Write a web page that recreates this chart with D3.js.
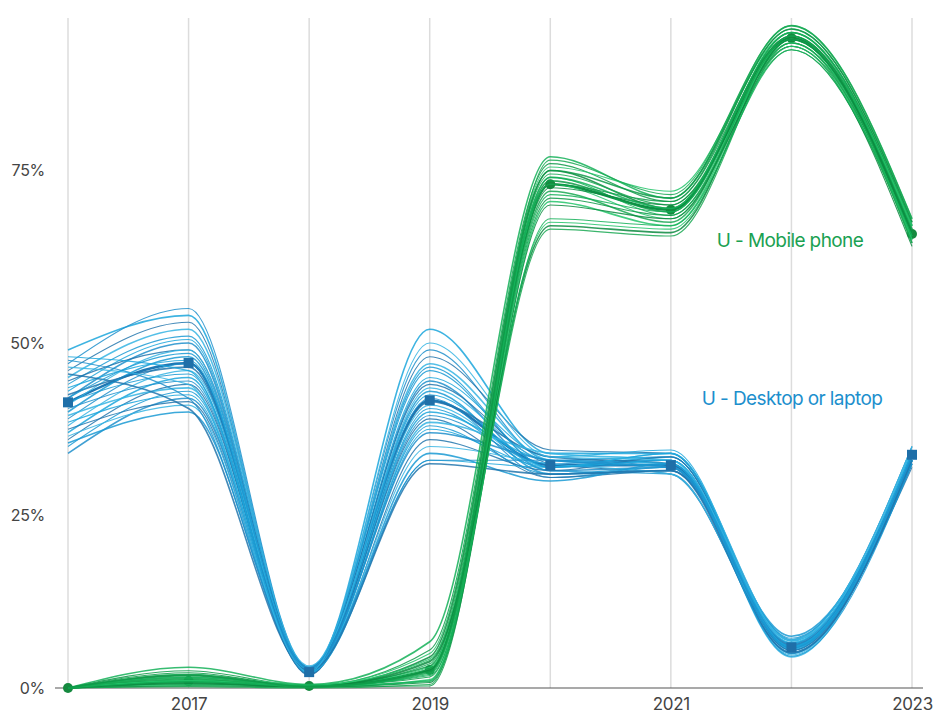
<!DOCTYPE html>
<html><head><meta charset="utf-8">
<script src="https://cdn.jsdelivr.net/npm/d3@7"></script>
<style>body{margin:0;background:#fff}svg{display:block;font-family:Inter,"Liberation Sans",sans-serif}</style>
</head><body><div id="chart"></div>
<script>
const years = [2016, 2017, 2018, 2019, 2020, 2021, 2022, 2023];
const xTickLabels = [2017, 2019, 2021, 2023];
const yTicks = [0, 25, 50, 75];
const seriesNames = ["U - Mobile phone", "U - Desktop or laptop"];
const desktopMain = [41.4, 47.1, 2.3, 41.7, 32.3, 32.3, 5.9, 33.8];
const mobileMain = [0, 1.0, 0.3, 2.6, 73, 69.3, 94.2, 65.8];
const desktopSamples = [
  [49, 54, 2.5, 52, 34, 34, 5.5, 34],
  [47, 55, 2.8, 49, 33, 33.5, 6, 33.5],
  [46, 53, 2.2, 48, 34.5, 34, 7, 35],
  [45, 52, 3.0, 47, 33, 32, 6.5, 34],
  [44, 51, 2.6, 46, 32, 33, 5, 33],
  [43, 50.5, 2.4, 45, 33.5, 34.5, 6, 34.5],
  [42, 50, 2.1, 44.5, 31.5, 32, 5.8, 33],
  [44.5, 49, 2.9, 44, 32.5, 31, 6.2, 32.5],
  [41, 49, 2.3, 43.5, 33, 33, 4.8, 34],
  [40, 48, 2.0, 43, 31, 31.5, 7.5, 33],
  [43.5, 47.5, 2.7, 42.5, 32, 33.5, 6.5, 34.5],
  [39, 47, 2.5, 42, 30.5, 32, 5.2, 32.5],
  [42.5, 46.5, 1.9, 41.5, 33.5, 32.5, 6, 34],
  [38, 46, 3.2, 41, 32, 34, 7, 35],
  [41.5, 45.5, 2.2, 40.5, 31.5, 31, 5.5, 33.5],
  [37, 45, 2.6, 40, 33, 32.5, 6.8, 33],
  [40.5, 44.5, 2.4, 39.5, 32.5, 33, 5, 34],
  [36, 44, 2.8, 39, 30.5, 31.5, 6.3, 32],
  [39.5, 43.5, 2.1, 38.5, 34, 33, 4.5, 34.5],
  [35, 43, 2.5, 38, 31, 32, 7.2, 33.5],
  [38.5, 42.5, 2.3, 37.5, 32, 34, 5.9, 33],
  [34, 42, 3.0, 37, 33, 32, 6.1, 34],
  [37.5, 41.5, 2.0, 36, 31.5, 33.5, 5.4, 32.5],
  [36.5, 41, 2.6, 35, 32.5, 31, 6.6, 34.5],
  [35.5, 40, 2.4, 34, 30, 32.5, 5.7, 33],
  [48, 46, 2.2, 33, 32, 33, 6, 34],
  [47.5, 42, 2.9, 33, 33, 32, 6.4, 33.5],
  [45.5, 40.5, 2.5, 32.5, 31, 31.5, 5.1, 33],
  [46.5, 44, 2.3, 50, 33.5, 33, 6.9, 35],
  [42, 48.5, 2.7, 46.5, 32, 32.5, 4.6, 32.5]
];
const mobileSamples = [
  [0, 3.0, 0.5, 6.7, 77, 71, 96, 68],
  [0, 2.5, 0.3, 5.5, 76, 70.5, 95.5, 67.5],
  [0, 2.0, 0.4, 5, 75.5, 72, 95, 67],
  [0, 1.8, 0.2, 4.5, 75, 69.5, 94.5, 66.5],
  [0, 1.5, 0.3, 4, 74.5, 70, 94, 66],
  [0, 1.3, 0.1, 3.5, 74, 68.5, 93.5, 65.5],
  [0, 1.2, 0.4, 3.2, 73.5, 69, 95, 67],
  [0, 1.0, 0.2, 3, 73, 68, 94, 65],
  [0, 0.9, 0.3, 2.6, 72.5, 70, 93, 66],
  [0, 0.8, 0.1, 2.2, 72, 67.5, 94.5, 64.5],
  [0, 0.6, 0.2, 2, 71.5, 69, 93.5, 66.5],
  [0, 0.5, 0.3, 1.6, 71, 68.5, 92.5, 65],
  [0, 0.4, 0.1, 1.2, 70.5, 67, 94, 67],
  [0, 0.3, 0.2, 0.8, 70, 68, 93, 64],
  [0, 0.2, 0, 0.5, 76.5, 71.5, 96, 68],
  [0, 1.6, 0.3, 1, 74, 69.5, 95, 66],
  [0, 2.2, 0.2, 0.3, 73, 70.5, 94.5, 65.5],
  [0, 1.1, 0.4, 4.2, 67.5, 66.5, 93, 65],
  [0, 0.7, 0.2, 3.8, 67, 66, 94, 66],
  [0, 1.4, 0.1, 2.8, 66.5, 65.5, 93.5, 64.5],
  [0, 0.9, 0.3, 1.8, 68, 67, 92.5, 65.5],
  [0, 1.9, 0.2, 2.4, 75, 71, 95.5, 67.5]
];
const bluePalette = ["#1ba6dc", "#1e8fcb", "#2276ad", "#35b4e3", "#1a9ad4"];
const greenPalette = ["#14b058", "#0e9a48", "#23c46a", "#0c8a40", "#19a852"];

const W = 935, H = 723;
const svg = d3.select("#chart").append("svg").attr("width", W).attr("height", H);
const x = d3.scaleLinear().domain([2016, 2023]).range([68, 912]);
const y = d3.scaleLinear().domain([0, 100]).range([688, -2]);

// vertical gridlines
svg.append("g").selectAll("line").data(years).join("line")
  .attr("x1", d => x(d)).attr("x2", d => x(d))
  .attr("y1", 18).attr("y2", 688)
  .attr("stroke", "#dcdcdc").attr("stroke-width", 1.5);

// y tick labels
svg.append("g").selectAll("text").data(yTicks).join("text")
  .attr("x", 45).attr("y", d => y(d)).attr("dy", "0.35em")
  .attr("text-anchor", "end").attr("fill", "#444").attr("font-size", 16).attr("letter-spacing", -0.3)
  .text(d => d + "%");

// x axis
const xAxis = d3.axisBottom(x).tickValues(xTickLabels).tickFormat(d3.format("d")).tickSize(0).tickPadding(10);
const gx = svg.append("g").attr("transform", "translate(0,688)").call(xAxis);
gx.select(".domain").attr("d", "M55,0H923").attr("stroke", "#555").attr("stroke-width", 1.2);
gx.selectAll("text").attr("font-size", 17).attr("fill", "#444").attr("letter-spacing", -0.3)
  .attr("font-family", "Inter, 'Liberation Sans', sans-serif");

const line = d3.line().x((d, i) => x(years[i])).y(d => y(d)).curve(d3.curveMonotoneX);

// desktop
const gB = svg.append("g").attr("fill", "none");
gB.append("path").attr("d", line(desktopMain)).attr("stroke", "#1f78b4").attr("stroke-width", 2.5);
gB.selectAll("path.s").data(desktopSamples).join("path").attr("class", "s")
  .attr("d", line).attr("stroke", (d, i) => bluePalette[i % bluePalette.length])
  .attr("stroke-width", (d, i) => i % 3 === 0 ? 1.6 : 1.1).attr("stroke-opacity", 0.85);

// markers (desktop)
svg.append("g").selectAll("rect").data(desktopMain).join("rect")
  .attr("x", (d, i) => x(years[i]) - 5).attr("y", d => y(d) - 5)
  .attr("width", 10).attr("height", 10).attr("fill", "#1f6fa8");

// mobile
const gG = svg.append("g").attr("fill", "none");
gG.append("path").attr("d", line(mobileMain)).attr("stroke", "#0f8f45").attr("stroke-width", 2.5);
gG.append("g").selectAll("circle").data(mobileMain).join("circle")
  .attr("cx", (d, i) => x(years[i])).attr("cy", d => y(d)).attr("r", 5)
  .attr("fill", "#15893f");
gG.selectAll("path.s").data(mobileSamples).join("path").attr("class", "s")
  .attr("d", line).attr("stroke", (d, i) => greenPalette[i % greenPalette.length])
  .attr("stroke-width", (d, i) => i % 3 === 0 ? 1.6 : 1.1).attr("stroke-opacity", 0.85);

// labels
svg.append("text").attr("x", 790).attr("y", 240).attr("dy", "0.35em")
  .attr("text-anchor", "middle").attr("font-size", 19).attr("letter-spacing", -0.6)
  .attr("fill", "#1aa152").text(seriesNames[0]);
svg.append("text").attr("x", 792).attr("y", 398).attr("dy", "0.35em")
  .attr("text-anchor", "middle").attr("font-size", 19).attr("letter-spacing", -0.6)
  .attr("fill", "#1c8fcd").text(seriesNames[1]);
</script></body></html>
